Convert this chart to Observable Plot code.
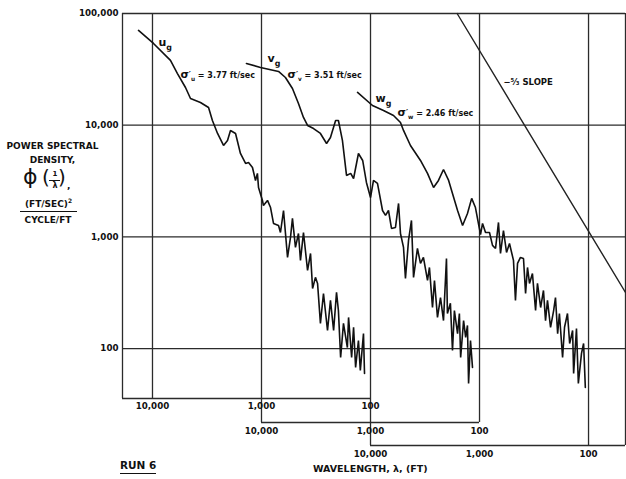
<!DOCTYPE html>
<html><head><meta charset="utf-8">
<script src="https://cdn.jsdelivr.net/npm/d3@7"></script>
<script src="https://cdn.jsdelivr.net/npm/@observablehq/plot@0.6"></script>
<style>
html,body{margin:0;padding:0;background:#fff;}
#wrap{position:relative;width:626px;height:479px;overflow:hidden;font-family:"DejaVu Sans",sans-serif;font-weight:bold;color:#111;}
#wrap svg{position:absolute;left:0;top:0;}
.lab{position:absolute;white-space:nowrap;font-size:9px;line-height:1;}
</style></head><body><div id="wrap"></div>
<script>
// u-component spectrum (wavelength on the first axis, ft)
const uWavelength = [13430, 9790, 6840, 5900, 4980, 4480, 3630, 3060, 2820, 2530, 2230, 2050, 1925, 1730, 1560, 1400, 1315, 1210, 1135, 1090, 1065, 980, 960, 881, 826, 776, 698, 670, 628, 577, 542, 520, 488, 458, 439, 412, 378, 355, 340, 320, 306, 288, 270, 248, 233, 218, 205, 197, 188, 177, 163, 159, 149, 143, 137, 129, 124, 116, 113.5];
const uPSD = [70500, 53900, 38000, 29000, 21750, 17340, 15960, 14400, 11020, 8430, 6580, 7300, 8970, 8430, 5580, 4540, 4630, 4180, 3200, 3700, 2770, 2120, 1910, 2120, 1830, 1320, 1265, 1094, 1722, 655, 989, 1462, 804, 1072, 615, 1094, 500, 710, 345, 434, 383, 168, 311, 145, 270, 145, 318, 219, 83.2, 168, 102, 190, 83.2, 155, 67.8, 118, 63.7, 136, 59.8];
// v-component spectrum (wavelength on the second axis, ft)
const vWavelength = [13740, 10210, 6980, 6030, 5200, 4580, 4120, 3780, 3330, 2880, 2530, 2330, 2090, 1970, 1810, 1660, 1520, 1430, 1290, 1180, 1090, 1000, 939, 863, 776, 728, 684, 642, 590, 553, 531, 498, 478, 448, 421, 403, 371, 348, 327, 300, 288, 270, 259, 243, 228, 214, 201, 197, 185, 177, 170, 159, 153, 149, 140, 134, 129, 126, 121, 116];
const vPSD = [35650, 32870, 30260, 26730, 21320, 15640, 11720, 9940, 9330, 8430, 6860, 7760, 11020, 11020, 7300, 3550, 3700, 3330, 5580, 4830, 3070, 2250, 3200, 3010, 1722, 1556, 1722, 1189, 1214, 1991, 1072, 804, 425, 929, 1403, 434, 787, 578, 655, 407, 532, 233, 407, 190, 286, 178, 641, 206, 254, 96.2, 219, 136, 206, 83.2, 178, 126, 161, 48.7, 118, 67.8];
// w-component spectrum (wavelength on the third axis, ft)
const wWavelength = [13150, 9590, 7600, 6150, 5310, 4980, 4300, 3480, 3000, 2640, 2380, 2140, 1920, 1770, 1590, 1430, 1290, 1180, 1090, 979, 938, 881, 810, 760, 713, 670, 642, 603, 565, 531, 488, 468, 448, 421, 395, 378, 363, 348, 327, 306, 294, 275, 259, 248, 238, 223, 209, 201, 192, 185, 173, 166, 156, 149, 140, 137, 129, 124, 116, 111, 107];
const wPSD = [19630, 15000, 13550, 12220, 10570, 8970, 6580, 4830, 3700, 2770, 3200, 4010, 3200, 2450, 1722, 1265, 1620, 2210, 1830, 1050, 1320, 1094, 1094, 838, 787, 1346, 710, 1140, 725, 873, 615, 270, 578, 655, 641, 311, 532, 383, 470, 219, 383, 233, 331, 178, 270, 155, 219, 286, 136, 206, 83.2, 155, 206, 111, 145, 59.8, 151, 48.7, 90.4, 111, 44.9];
// -5/3 slope reference line (third-axis wavelength)
const slopeWavelength = [1605, 45.8];
const slopePSD = [100000, 318];

const psdTicks = [100, 1000, 10000, 100000];
const axis1Ticks = [10000, 1000, 100];
const axis2Ticks = [10000, 1000, 100];
const axis3Ticks = [10000, 1000, 100];
const axisFactor = {u: 1, v: 10, w: 100};

const annoText = ["u_g", "σ′_u = 3.77 ft/sec", "v_g", "σ′_v = 3.51 ft/sec", "w_g", "σ′_w = 2.46 ft/sec", "−⁵⁄₃ SLOPE"];
const annoAxis = ["u", "u", "v", "v", "w", "w", "w"];
const annoWavelength = [8810, 5540, 8810, 5770, 9000, 5650, 603];
const annoPSD = [55000, 27860, 39540, 27860, 17340, 12730, 24100];
const annoSize = [11, 8, 11, 8, 11, 8, 8.5];

const rows = [];
[["u", uWavelength, uPSD], ["v", vWavelength, vPSD], ["w", wWavelength, wPSD]].forEach(([s, L, P]) =>
  L.forEach((l, i) => rows.push({series: s, x: l / axisFactor[s], psd: P[i]})));
const slope = slopeWavelength.map((l, i) => ({x: l / axisFactor.w, psd: slopePSD[i]}));
const annos = annoText.map((t, i) => ({text: t, x: annoWavelength[i] / axisFactor[annoAxis[i]], psd: annoPSD[i], size: annoSize[i]}));

const xD = [18840, 0.458], yD = [35.7, 100000];
const fmt = d3.format(",");
const grid = {stroke: "#2b2b2b", strokeWidth: 1.3};
const tickText = {fontSize: 8.7, fontWeight: "bold", fill: "#111", frameAnchor: "bottom", lineAnchor: "top"};

const chart = Plot.plot({
  width: 626, height: 479,
  marginLeft: 122, marginRight: 1, marginTop: 13, marginBottom: 81,
  x: {type: "log", domain: xD, axis: null},
  y: {type: "log", domain: yD, axis: null},
  style: {fontFamily: "DejaVu Sans, sans-serif", fontWeight: "bold", fontSize: "8.7px", color: "#111", background: "white"},
  marks: [
    Plot.ruleY(psdTicks, grid),
    Plot.ruleX([xD[0], 10000], grid),
    Plot.ruleX([1000, 10], {...grid, insetBottom: -24}),
    Plot.ruleX([100, 1, xD[1]], {...grid, insetBottom: -47}),
    Plot.ruleY([yD[0]], {...grid, x1: xD[0], x2: 100}),
    Plot.ruleY([yD[0]], {...grid, x1: 1000, x2: 10, dy: 24}),
    Plot.ruleY([yD[0]], {...grid, x1: 100, x2: xD[1], dy: 47}),
    Plot.axisY(psdTicks, {tickFormat: fmt, tickSize: 0, tickPadding: 4, fontSize: 8.7, fontWeight: "bold", label: null}),
    Plot.text(axis1Ticks, {...tickText, x: d => d / axisFactor.u, text: d => fmt(d), dy: 4}),
    Plot.text(axis2Ticks, {...tickText, x: d => d / axisFactor.v, text: d => fmt(d), dy: 29}),
    Plot.text(axis3Ticks, {...tickText, x: d => d / axisFactor.w, text: d => fmt(d), dy: 52}),
    Plot.line(slope, {x: "x", y: "psd", stroke: "#222", strokeWidth: 1.4}),
    Plot.line(rows, {x: "x", y: "psd", z: "series", stroke: "#111", strokeWidth: 1.6, strokeLinejoin: "miter"}),
    Plot.text(annos, {x: "x", y: "psd", text: "text", textAnchor: "start", fontSize: d => d.size, fontWeight: "bold", fill: "#111"})
  ]
});
document.getElementById("wrap").appendChild(chart);

// subscripts in annotation labels
d3.select(chart).selectAll("text").each(function () {
  const t = this.textContent;
  if (!t.includes("_")) return;
  const parts = t.split(/_(\w)/);
  const sel = d3.select(this); sel.text(null);
  const fs = parseFloat(sel.attr("font-size")) || 8;
  let shifted = false;
  parts.forEach((p, i) => {
    if (!p) return;
    if (i % 2 === 1) {
      sel.append("tspan").attr("dy", fs * 0.35).attr("font-size", fs * 0.72).text(p);
      shifted = true;
    } else {
      if (p.startsWith("σ")) {
        sel.append("tspan").attr("font-size", fs * 1.35).text("σ");
        sel.append("tspan").text(p.slice(1));
      } else {
        sel.append("tspan").attr("dy", shifted ? -fs * 0.35 : null).text(p);
        shifted = false;
      }
    }
  });
});

// HTML labels around the plot
const wrap = document.getElementById("wrap");
function lab(html, style) {
  const d = document.createElement("div");
  d.className = "lab"; d.innerHTML = html; d.setAttribute("style", style);
  wrap.appendChild(d);
}
lab("POWER SPECTRAL", "left:0;width:105px;text-align:center;top:142px;");
lab("DENSITY,", "left:0;width:105px;text-align:center;top:156px;");
lab("ϕ", "left:23px;top:166px;font-size:22px;font-weight:normal;");
lab("(", "left:42px;top:167px;font-size:20px;font-weight:normal;");
lab("1", "left:50px;top:171px;font-size:7px;width:10px;text-align:center;");
lab("", "left:49px;top:180px;width:11px;height:0;border-top:1px solid #111;");
lab("λ", "left:50px;top:182px;font-size:8px;width:10px;text-align:center;");
lab(")", "left:58px;top:167px;font-size:20px;font-weight:normal;");
lab(",", "left:67px;top:182px;font-size:9px;");
lab("(FT/SEC)<span style='font-size:6px;vertical-align:4px'>2</span>", "left:0;width:97px;text-align:center;top:198px;");
lab("", "left:20px;top:211px;width:57px;height:0;border-top:1.3px solid #111;");
lab("CYCLE/FT", "left:0;width:96px;text-align:center;top:216px;");
lab("RUN 6", "left:120px;top:460px;font-size:10.5px;padding-bottom:2px;border-bottom:1.5px solid #111;");
lab("WAVELENGTH, λ, (FT)", "left:313px;top:464px;font-size:9.5px;");
</script></body></html>
